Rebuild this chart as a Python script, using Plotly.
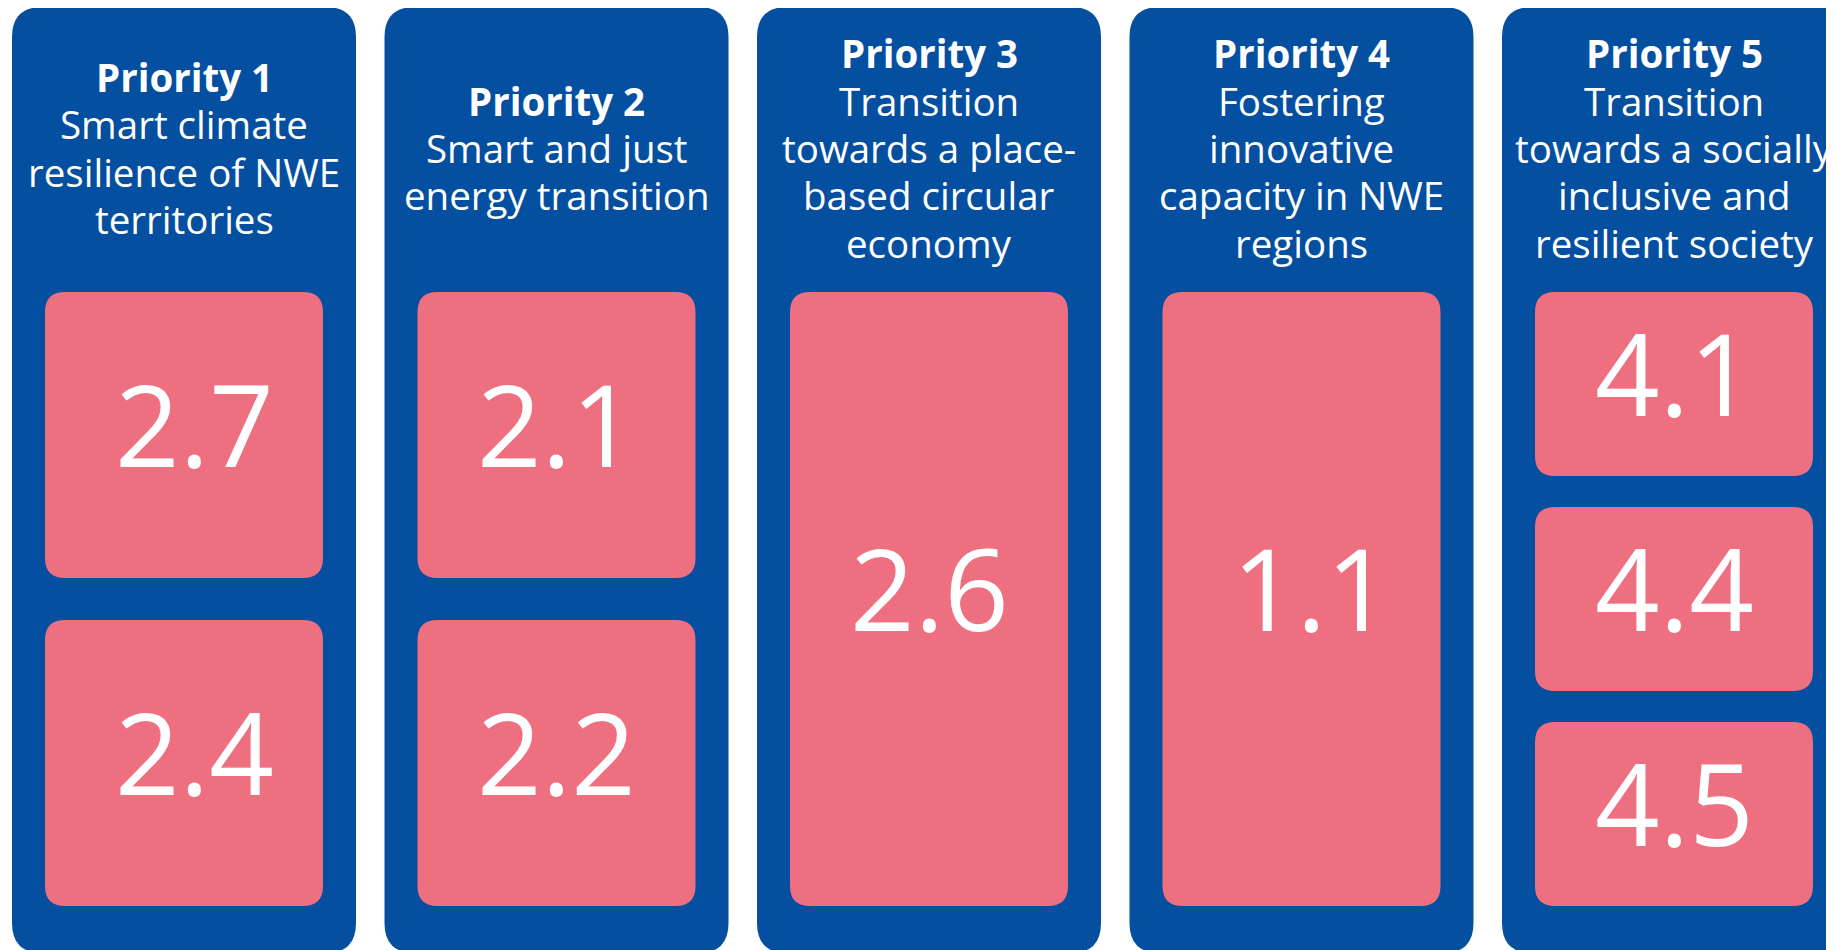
import plotly.graph_objects as go

# ---- data ----
priorities = ["Priority 1", "Priority 2", "Priority 3", "Priority 4", "Priority 5"]
descriptions = [
    ["Smart climate", "resilience of NWE", "territories"],
    ["Smart and just", "energy transition"],
    ["Transition", "towards a place-", "based circular", "economy"],
    ["Fostering", "innovative", "capacity in NWE", "regions"],
    ["Transition", "towards a socially", "inclusive and", "resilient society"],
]
objectives = [
    ["2.7", "2.4"],
    ["2.1", "2.2"],
    ["2.6"],
    ["1.1"],
    ["4.1", "4.4", "4.5"],
]

# ---- style / layout constants ----
W, H = 1834, 950
OFF = 8  # page body margin
BLUE = "#044FA0"
PINK = "#EE7080"
FONT = "Open Sans"
panel_x0, panel_pitch, panel_w = 12, 372.5, 344
panel_top, panel_bottom, panel_r = 7, 953, 30
box_inset, box_top, box_bottom, box_r = 33, 292, 906, 20
gaps = {1: 0, 2: 42, 3: 31}
header_cy, line_h = 148, 47.4
num_shift = -12
num_dx = [10, 0, 0, 10, 0]  # horizontal nudge of the numbers per panel


def rrect(x0, y0, x1, y1, r):
    return (f"M {x0+r},{y0} L {x1-r},{y0} Q {x1},{y0} {x1},{y0+r} "
            f"L {x1},{y1-r} Q {x1},{y1} {x1-r},{y1} L {x0+r},{y1} "
            f"Q {x0},{y1} {x0},{y1-r} L {x0},{y0+r} Q {x0},{y0} {x0+r},{y0} Z")


fig = go.Figure()
shapes, annotations = [], []
for i, (p, d, objs) in enumerate(zip(priorities, descriptions, objectives)):
    px0 = panel_x0 + i * panel_pitch
    px1 = px0 + panel_w
    cx = (px0 + px1) / 2
    shapes.append(dict(type="path", xref="x", yref="y", layer="below",
                       path=rrect(px0, panel_top, px1, panel_bottom, panel_r),
                       fillcolor=BLUE, line=dict(width=0)))
    lines = [f"<b>{p}</b>"] + d
    nl = len(lines)
    for k, ln in enumerate(lines):
        annotations.append(dict(x=cx, y=header_cy + (k - (nl - 1) / 2) * line_h,
                                xref="x", yref="y", text=ln, showarrow=False,
                                xanchor="center", yanchor="middle", align="center",
                                font=dict(family=FONT, size=38.5, color="white")))
    n = len(objs)
    g = gaps[n]
    bh = (box_bottom - box_top - g * (n - 1)) / n
    bx0, bx1 = px0 + box_inset, px1 - box_inset
    for j, o in enumerate(objs):
        by0 = box_top + j * (bh + g)
        by1 = by0 + bh
        shapes.append(dict(type="path", xref="x", yref="y", layer="below",
                           path=rrect(bx0, by0, bx1, by1, box_r),
                           fillcolor=PINK, line=dict(width=0)))
        annotations.append(dict(x=(bx0 + bx1) / 2 + num_dx[i], y=(by0 + by1) / 2 + num_shift,
                                xref="x", yref="y", text=o, showarrow=False,
                                xanchor="center", yanchor="middle",
                                font=dict(family=FONT, size=113, color="white")))

fig.update_layout(
    width=W, height=H, margin=dict(l=0, r=0, t=0, b=0),
    paper_bgcolor="white", plot_bgcolor="white",
    xaxis=dict(range=[OFF, W + OFF], visible=False, fixedrange=True),
    yaxis=dict(range=[H + OFF, OFF], visible=False, fixedrange=True),
    shapes=shapes, annotations=annotations, showlegend=False,
)
fig.write_html("out.html", config={"displayModeBar": False})
